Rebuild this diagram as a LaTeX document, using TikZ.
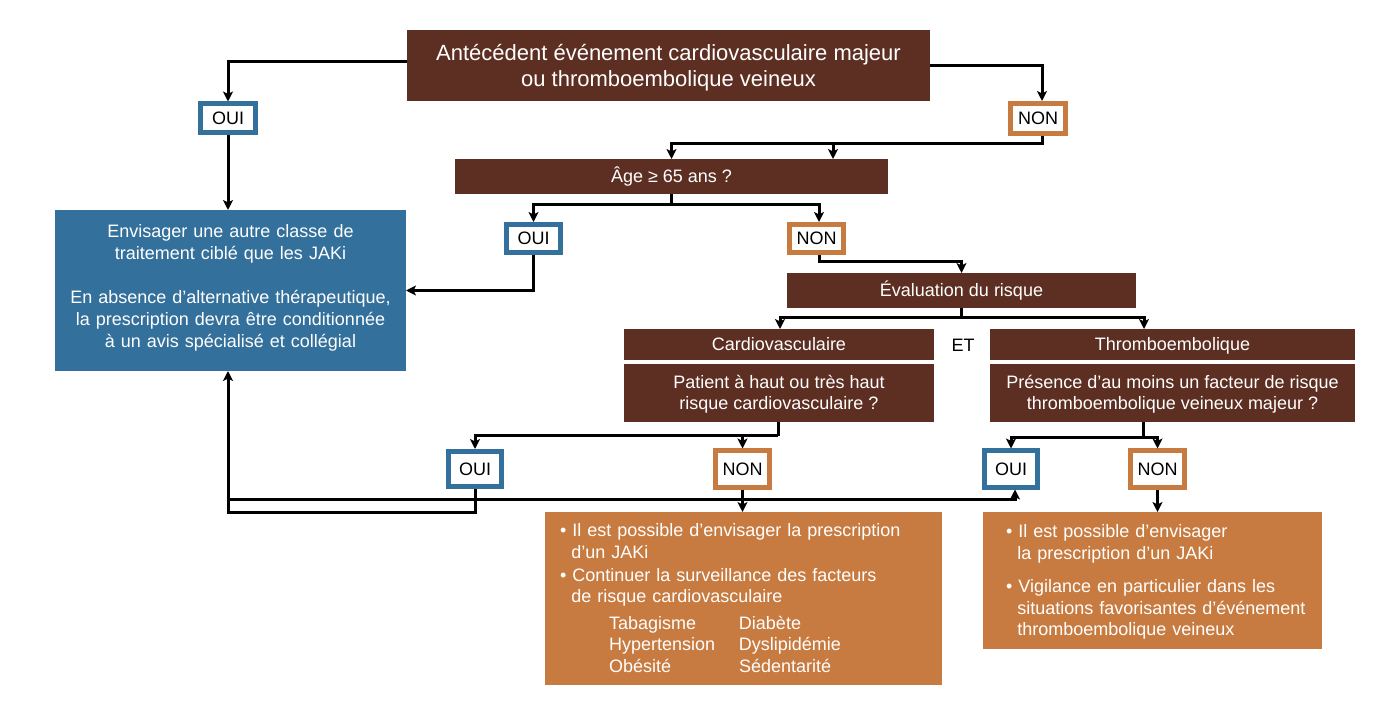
\documentclass[tikz,border=0pt]{standalone}
\usepackage{fontspec}
\setmainfont{Liberation Sans}
\usetikzlibrary{arrows.meta,calc}
\definecolor{brun}{RGB}{93,47,34}
\definecolor{bleu}{RGB}{51,112,155}
\definecolor{orng}{RGB}{200,123,64}
\newcommand\fst{\rule[-0.212em]{0pt}{1.117em}}
\newcommand\bul{•\ }
\newcommand\ind{\hspace*{11.3pt}}
\begin{document}
\begin{tikzpicture}[x=1pt,y=-1pt,
  conn/.style={line width=3pt,black},
  arr/.style={conn,-{Stealth[length=10pt,width=10pt,inset=2.5pt]}},
  base/.style={inner sep=0pt,outer sep=0pt,align=center,font=\fontsize{18}{22}\selectfont},
  brbox/.style={base,fill=brun,text=white},
  bluebox/.style={base,fill=bleu,text=white},
  orbox/.style={base,fill=orng,text=white,align=left,font=\fontsize{18}{21.5}\selectfont},
  ouibox/.style={base,draw=bleu,line width=5pt,fill=white,text=black,outer sep=2.5pt},
  nonbox/.style={ouibox,draw=orng},
]
\useasboundingbox (0,0) rectangle (1398,708);

% main boxes
\node[brbox,minimum width=523pt,minimum height=71pt,font=\fontsize{22}{26}\selectfont] (top) at (668.5,65.5)
  {\fst Antécédent événement cardiovasculaire majeur\\\fst ou thromboembolique veineux};
\node[ouibox,minimum width=55pt,minimum height=29pt] (oui1) at (228,118.5) {\fst OUI};
\node[nonbox,minimum width=55pt,minimum height=30pt] (non1) at (1038,118.5) {\fst NON};

\node[bluebox,text width=345pt,minimum width=351pt,minimum height=161pt] (blue) at (230.5,290.5)
  {\fst Envisager une autre classe de\\\fst traitement ciblé que les JAKi\\[22pt]\fst En absence d’alternative thérapeutique,\\\fst la prescription devra être conditionnée\\\fst à un avis spécialisé et collégial\rule[-12.8pt]{0pt}{12.8pt}};

\node[brbox,minimum width=433pt,minimum height=35pt] (age) at (671.5,176.5) {\fst Âge ≥ 65 ans ?};
\node[ouibox,minimum width=54pt,minimum height=28pt] (oui2) at (533.5,238.5) {\fst OUI};
\node[nonbox,minimum width=54pt,minimum height=28pt] (non2) at (816.5,238.5) {\fst NON};

\node[brbox,minimum width=349pt,minimum height=35pt] (eval) at (961.5,290.5) {\fst Évaluation du risque};

\node[brbox,minimum width=310pt,minimum height=31pt] (cardH) at (779,344.5) {\fst Cardiovasculaire};
\node[brbox,minimum width=310pt,minimum height=58pt,font=\fontsize{18}{21.5}\selectfont] (cardQ) at (779,393)
  {\fst Patient à haut ou très haut\\\fst risque cardiovasculaire ?};
\node[base] (et) at (963,345.5) {\fst ET};
\node[brbox,minimum width=365pt,minimum height=31pt] (thrH) at (1172.5,344.5) {\fst Thromboembolique};
\node[brbox,minimum width=365pt,minimum height=58pt,font=\fontsize{18}{21.5}\selectfont] (thrQ) at (1172.5,393)
  {\fst Présence d’au moins un facteur de risque\\\fst thromboembolique veineux majeur ?};

\node[ouibox,minimum width=53pt,minimum height=35pt] (oui3) at (475,469) {\fst OUI};
\node[nonbox,minimum width=54pt,minimum height=36pt] (non3) at (742.5,469) {\fst NON};
\node[ouibox,minimum width=53pt,minimum height=36pt] (oui4) at (1011,469) {\fst OUI};
\node[nonbox,minimum width=54pt,minimum height=36pt] (non4) at (1157.5,469) {\fst NON};

\node[orbox,text width=397pt,minimum width=397pt,minimum height=173pt] (or1) at (743.5,598.5)
  {\hspace*{15pt}\fst\bul Il est possible d’envisager la prescription\\
   \hspace*{15pt}\fst\ind d’un JAKi\\[1.5pt]
   \hspace*{15pt}\fst\bul Continuer la surveillance des facteurs\\
   \hspace*{15pt}\fst\ind de risque cardiovasculaire\\[5pt]
   \hspace*{64pt}\fst\makebox[130pt][l]{Tabagisme}Diabète\\
   \hspace*{64pt}\fst\makebox[130pt][l]{Hypertension}Dyslipidémie\\
   \hspace*{64pt}\fst\makebox[130pt][l]{Obésité}Sédentarité};
\node[orbox,text width=339pt,minimum width=339pt,minimum height=137pt] (or2) at (1152.5,580.5)
  {\hspace*{23pt}\fst\bul Il est possible d’envisager\\
   \hspace*{23pt}\fst\ind la prescription d’un JAKi\\[12pt]
   \hspace*{23pt}\fst\bul Vigilance en particulier dans les\\
   \hspace*{23pt}\fst\ind situations favorisantes d’événement\\
   \hspace*{23pt}\fst\ind thromboembolique veineux};

% junction coordinates
\coordinate (k1) at (833,144);
\coordinate (j1) at (228,499);
\coordinate (j2) at (228,512);

% connectors
\draw[arr] ([yshift=3.5pt]top.west) -| (oui1.north);
\draw[arr] (oui1.south) -- (oui1.south |- blue.north);
\draw[arr] (top.east) -| ([xshift=4pt]non1.north);
\draw[arr] ([xshift=4pt]non1.south) |- (k1 -| age.north) -- (age.north);
\draw[arr] (k1) -- (k1 |- age.north);

\draw[conn] (age.south) -- ++(0,11) coordinate (k2);
\draw[arr] (k2) -| (oui2.north);
\draw[arr] (k2) -| ([xshift=2.5pt]non2.north);
\draw[arr] (oui2.south) |- (blue.east);
\draw[arr] ([xshift=2.5pt]non2.south) -- ++(0,7) -| (eval.north);

\draw[conn] (eval.south) -- ++(0,10) coordinate (k3);
\draw[arr] (k3) -| ([xshift=1pt]cardH.north);
\draw[arr] (k3) -| ([xshift=-28.5pt]thrH.north);

\draw[conn] ([xshift=-1pt]cardQ.south) -- ++(0,14) coordinate (k4);
\draw[arr] (k4) -| (oui3.north);
\draw[arr] (k4) -| (non3.north);
\draw[conn] ([xshift=-29.5pt]thrQ.south) -- ++(0,16) coordinate (k5);
\draw[arr] (k5) -| (oui4.north);
\draw[arr] (k5) -| (non4.north);

\draw[arr] (oui3.south) |- (j2) -- (j2 |- blue.south);
\draw[arr] (j1) -| ([xshift=4pt]oui4.south);
\draw[arr] (non3.south) -- (non3.south |- or1.north);
\draw[arr] (non4.south) -- (non4.south |- or2.north);
\end{tikzpicture}
\end{document}
